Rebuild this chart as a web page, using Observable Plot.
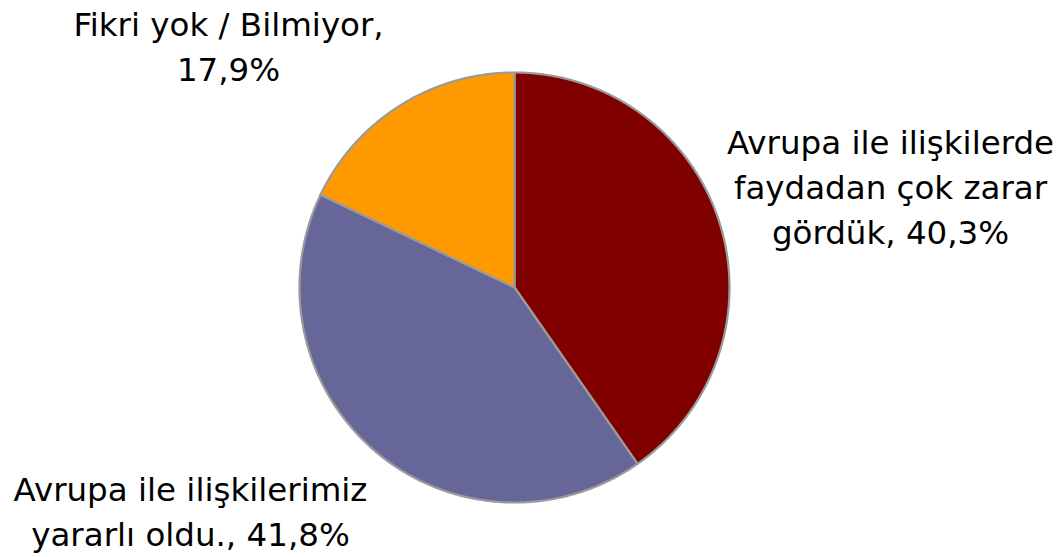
<!DOCTYPE html>
<html>
<head>
<meta charset="utf-8">
<script src="https://cdn.jsdelivr.net/npm/d3@7"></script>
<script src="https://cdn.jsdelivr.net/npm/@observablehq/plot@0.6"></script>
<style>
  html, body { margin: 0; padding: 0; background: #ffffff; }
  #chart { width: 1060px; height: 557px; }
</style>
</head>
<body>
<div id="chart"></div>
<script>
// ---- data ----
const categories = [
  "Avrupa ile ilişkilerde faydadan çok zarar gördük",
  "Avrupa ile ilişkilerimiz yararlı oldu.",
  "Fikri yok / Bilmiyor"
];
const labelText = [
  "Avrupa ile ilişkilerde\nfaydadan çok zarar\ngördük, 40,3%",
  "Avrupa ile ilişkilerimiz\nyararlı oldu., 41,8%",
  "Fikri yok / Bilmiyor,\n17,9%"
];
const values = [40.3, 41.8, 17.9];
const colors = ["#800000", "#666699", "#FF9900"];

// ---- layout ----
const W = 1060, H = 557;
const R = 215, CX = 514, CY = 287;
// label centres in pie-radius units (relative to pie centre)
const labelPos = [[1.749, 0.478], [-1.507, -1.032], [-1.330, 1.133]];

const pie = d3.pie().sort(null).value(d => d.value)(
  categories.map((c, i) => ({ key: c, value: values[i] }))
);

// polygon outline of each slice (angle measured clockwise from top)
const pts = [];
pie.forEach(s => {
  const key = s.data.key;
  pts.push({ key, x: 0, y: 0 });
  const n = Math.max(2, Math.ceil((s.endAngle - s.startAngle) / 0.005));
  for (let k = 0; k <= n; k++) {
    const a = s.startAngle + (s.endAngle - s.startAngle) * k / n;
    pts.push({ key, x: Math.sin(a), y: Math.cos(a) });
  }
});

const labels = categories.map((c, i) => ({
  key: c, text: labelText[i], x: labelPos[i][0], y: labelPos[i][1]
}));

const chart = Plot.plot({
  width: W,
  height: H,
  margin: 0,
  x: { domain: [-CX / R, (W - CX) / R], axis: null },
  y: { domain: [-(H - CY) / R, CY / R], axis: null },
  color: { domain: categories, range: colors },
  style: { background: "#ffffff", fontFamily: "DejaVu Sans, Verdana, sans-serif" },
  marks: [
    Plot.line(pts, {
      x: "x", y: "y", z: "key", fill: "key",
      stroke: "#9a9a9a", strokeWidth: 2.2, strokeLinejoin: "round",
      curve: "linear-closed"
    }),
    Plot.text(labels, {
      x: "x", y: "y", text: "text",
      fontSize: 32.5, lineHeight: 1.39, fill: "#000000",
      textAnchor: "middle"
    })
  ]
});
document.getElementById("chart").appendChild(chart);
</script>
</body>
</html>
